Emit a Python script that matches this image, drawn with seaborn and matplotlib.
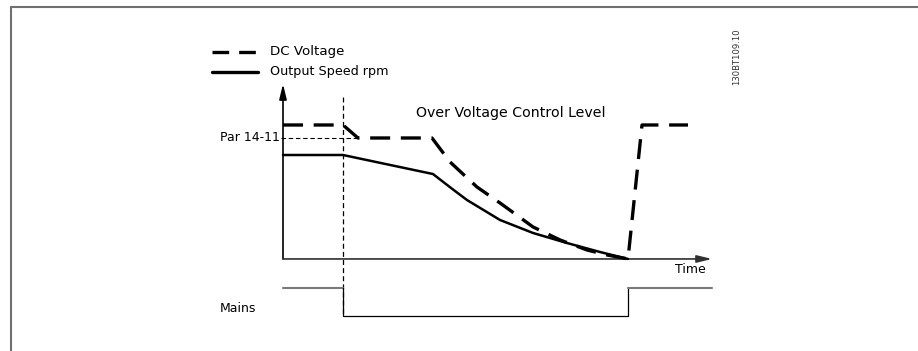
import matplotlib
matplotlib.use("Agg")
import matplotlib.pyplot as plt
import seaborn as sns
import pandas as pd

# Time axis (arbitrary units) and normalised levels
dc_time = [0, 6.0, 7.5, 14.9, 16.7, 19.4, 21.7, 25.0, 27.7, 30.4, 32.4, 34.5, 35.9, 40.5]
dc_level = [1.0, 1.0, 0.903, 0.903, 0.724, 0.537, 0.418, 0.239, 0.142, 0.067, 0.030, 0.0, 1.0, 1.0]

speed_time = [0, 6.0, 15.0, 16.8, 18.4, 21.7, 25.0, 28.4, 31.7, 34.5]
speed_level = [0.776, 0.776, 0.634, 0.530, 0.440, 0.291, 0.194, 0.119, 0.052, 0.0]

par_limit = 0.903          # Par 14-11 voltage limit
mains_fail_t = 6.0
mains_return_t = 34.5
mains_on, mains_off = -0.216, -0.425
axis_end_t = 42.9

legend_labels = ["DC Voltage", "Output Speed rpm"]

sns.set_style("white")
plt.rcParams["font.family"] = ["DejaVu Sans"]
plt.rcParams["text.color"] = "black"

fig = plt.figure(figsize=(9.18, 3.51), dpi=100)
ax = fig.add_axes([0, 0, 1, 1])
ax.set_xlim(-28.3, 63.5)
ax.set_ylim(-0.687, 1.933)
ax.axis("off")

dc = pd.DataFrame({"t": dc_time, "v": dc_level})
sp = pd.DataFrame({"t": speed_time, "v": speed_level})

sns.lineplot(data=dc, x="t", y="v", ax=ax, sort=False, color="black",
             lw=2.4, dashes=False, zorder=5).lines[-1].set_dashes((6, 3.2))
sns.lineplot(data=sp, x="t", y="v", ax=ax, sort=False, color="black",
             lw=1.8, zorder=5)

# axes with arrows
ax.annotate("", xy=(0, 1.306), xytext=(0, 0),
            arrowprops=dict(arrowstyle="-|>,head_length=0.9,head_width=0.22",
                            color="black", lw=1.2, shrinkA=0, shrinkB=0))
ax.annotate("", xy=(axis_end_t, 0), xytext=(0, 0),
            arrowprops=dict(arrowstyle="-|>,head_length=0.9,head_width=0.22",
                            color="#303030", lw=1.2, shrinkA=0, shrinkB=0))

# mains failure marker and Par 14-11 reference line
ax.plot([mains_fail_t, mains_fail_t], [1.209, mains_off], color="black",
        lw=0.9, dashes=(4, 2.5))
ax.plot([-0.2, 7.5], [par_limit, par_limit], color="black", lw=0.8, dashes=(4, 2.5))

# mains signal
ax.plot([0, mains_fail_t], [mains_on, mains_on], color="#7a7a7a", lw=1.5)
ax.plot([mains_fail_t, mains_fail_t, mains_return_t, mains_return_t],
        [mains_on, mains_off, mains_off, mains_on], color="black", lw=0.9)
ax.plot([mains_return_t, axis_end_t], [mains_on, mains_on], color="#7a7a7a", lw=1.5)

fs = 9
ax.text(-0.3, par_limit, "Par 14-11", ha="right", va="center", fontsize=fs)
ax.text(13.3, 1.093, "Over Voltage Control Level", ha="left", va="center", fontsize=10.2)
ax.text(42.3, -0.082, "Time", ha="right", va="center", fontsize=fs)
ax.text(-6.3, -0.373, "Mains", ha="left", va="center", fontsize=fs)

# legend drawn as sample strokes with labels
ax.plot([-7.1, -2.5], [1.545, 1.545], color="black", lw=2.4, dashes=(5, 3))
ax.text(-1.3, 1.545, legend_labels[0], ha="left", va="center", fontsize=9.6)
ax.plot([-7.1, -2.5], [1.396, 1.396], color="black", lw=2.4)
ax.text(-1.3, 1.396, legend_labels[1], ha="left", va="center", fontsize=9.2)

ax.text(45.4, 1.507, "130BT109.10", rotation=90, ha="center", va="center",
        fontsize=6.1, color="#333333")

# outer frame (left and top edges)
fig.add_artist(plt.Line2D([0.0115, 0.0115], [0, 0.98], transform=fig.transFigure,
                          color="#707070", lw=1.5))
fig.add_artist(plt.Line2D([0.0115, 1.0], [0.98, 0.98], transform=fig.transFigure,
                          color="#707070", lw=1.5))

fig.savefig("out.png", dpi=100, facecolor="white")
